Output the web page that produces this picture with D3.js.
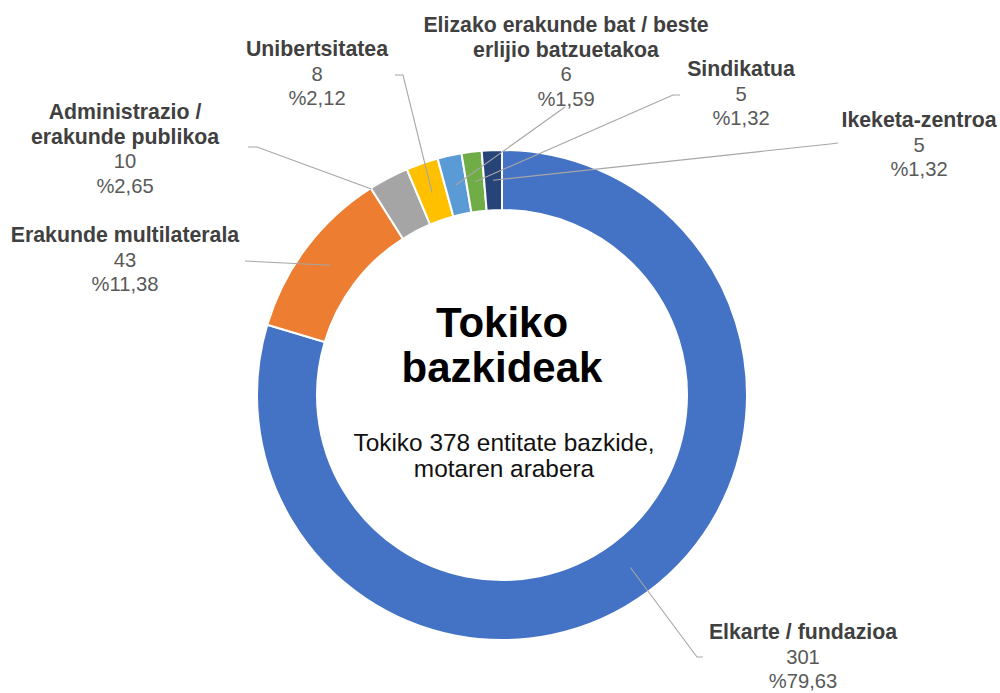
<!DOCTYPE html>
<html><head><meta charset="utf-8">
<script src="https://cdn.jsdelivr.net/npm/d3@7"></script>
<style>body{margin:0;background:#fff;overflow:hidden}</style>
</head><body><svg id="chart" width="1000" height="693"></svg>
<script>
// ---- data ----
const categories = ["Elkarte / fundazioa", "Erakunde multilaterala", "Administrazio /\nerakunde publikoa", "Unibertsitatea", "Elizako erakunde bat / beste\nerlijio batzuetakoa", "Sindikatua", "Ikeketa-zentroa"];
const values = [301, 43, 10, 8, 6, 5, 5];
const percentLabels = ["%79,63", "%11,38", "%2,65", "%2,12", "%1,59", "%1,32", "%1,32"];
const colors = ["#4472C4", "#ED7D31", "#A5A5A5", "#FFC000", "#5B9BD5", "#70AD47", "#264478"];
const titleLines = ["Tokiko", "bazkideak"];
const subtitleLines = ["Tokiko 378 entitate bazkide,", "motaren arabera"];

// ---- layout ----
const cx = 502, cy = 395, rOuter = 245, rInner = 185, rLabel = 215;
const lineH = 24.5;
const labelLayout = [
  {x: 803, y: 639, path: [[703, 657], [697, 657]], anchor: "mid"},
  {x: 125, y: 242, path: [[245, 261]], anchor: "mid"},
  {x: 125, y: 119, path: [[248, 147], [257, 147]], anchor: "startOuter"},
  {x: 317, y: 56, path: [[395, 75], [403, 75]], anchor: "mid"},
  {x: 566, y: 32, path: [[565, 107]], anchor: "mid"},
  {x: 741, y: 76, path: [[680, 95], [673, 95]], anchor: "mid"},
  {x: 919, y: 127, path: [[838, 143], [830, 144]], anchor: "mid"}
];

const svg = d3.select("#chart");
const g = svg.append("g").attr("transform", `translate(${cx},${cy})`);

const pie = d3.pie().sort(null).value(d => d)(values);
const arc = d3.arc().innerRadius(rInner).outerRadius(rOuter);

g.selectAll("path.slice").data(pie).join("path")
  .attr("class", "slice")
  .attr("d", arc)
  .attr("fill", (d, i) => colors[i])
  .attr("stroke", "#fff")
  .attr("stroke-width", 2);

// leader lines
const polar = (a, r) => [r * Math.sin(a), -r * Math.cos(a)];
pie.forEach((d, i) => {
  const L = labelLayout[i];
  const anchor = L.anchor === "mid" ? polar((d.startAngle + d.endAngle) / 2, rLabel) : polar(d.startAngle, rOuter - 1);
  const pts = L.path.map(p => [p[0] - cx, p[1] - cy]).concat([anchor]);
  g.append("path")
    .attr("d", d3.line()(pts))
    .attr("fill", "none")
    .attr("stroke", "#A6A6A6")
    .attr("stroke-width", 1.1);
});

// labels
const font = "'Liberation Sans', Arial, sans-serif";
pie.forEach((d, i) => {
  const L = labelLayout[i];
  const nameLines = categories[i].split("\n");
  const t = svg.append("text")
    .attr("x", L.x).attr("y", L.y)
    .attr("text-anchor", "middle")
    .attr("font-family", font)
    .attr("font-size", 21.3);
  nameLines.forEach((ln, k) => {
    t.append("tspan").attr("x", L.x).attr("dy", k === 0 ? 0 : lineH)
      .attr("font-weight", "bold").attr("fill", "#404040").text(ln);
  });
  t.append("tspan").attr("x", L.x).attr("dy", lineH).attr("fill", "#595959").attr("font-size", 20.2).text(values[i]);
  t.append("tspan").attr("x", L.x).attr("dy", lineH).attr("fill", "#595959").attr("font-size", 20.2).text(percentLabels[i]);
});

// center title
titleLines.forEach((ln, k) => {
  svg.append("text").attr("x", cx).attr("y", 337 + k * 45)
    .attr("text-anchor", "middle").attr("font-family", font)
    .attr("font-weight", "bold").attr("font-size", 42).attr("fill", "#000").text(ln);
});
subtitleLines.forEach((ln, k) => {
  svg.append("text").attr("x", cx + 2).attr("y", 451 + k * 26)
    .attr("text-anchor", "middle").attr("font-family", font)
    .attr("font-size", 24.4).attr("fill", "#111").text(ln);
});
</script>
</body></html>
